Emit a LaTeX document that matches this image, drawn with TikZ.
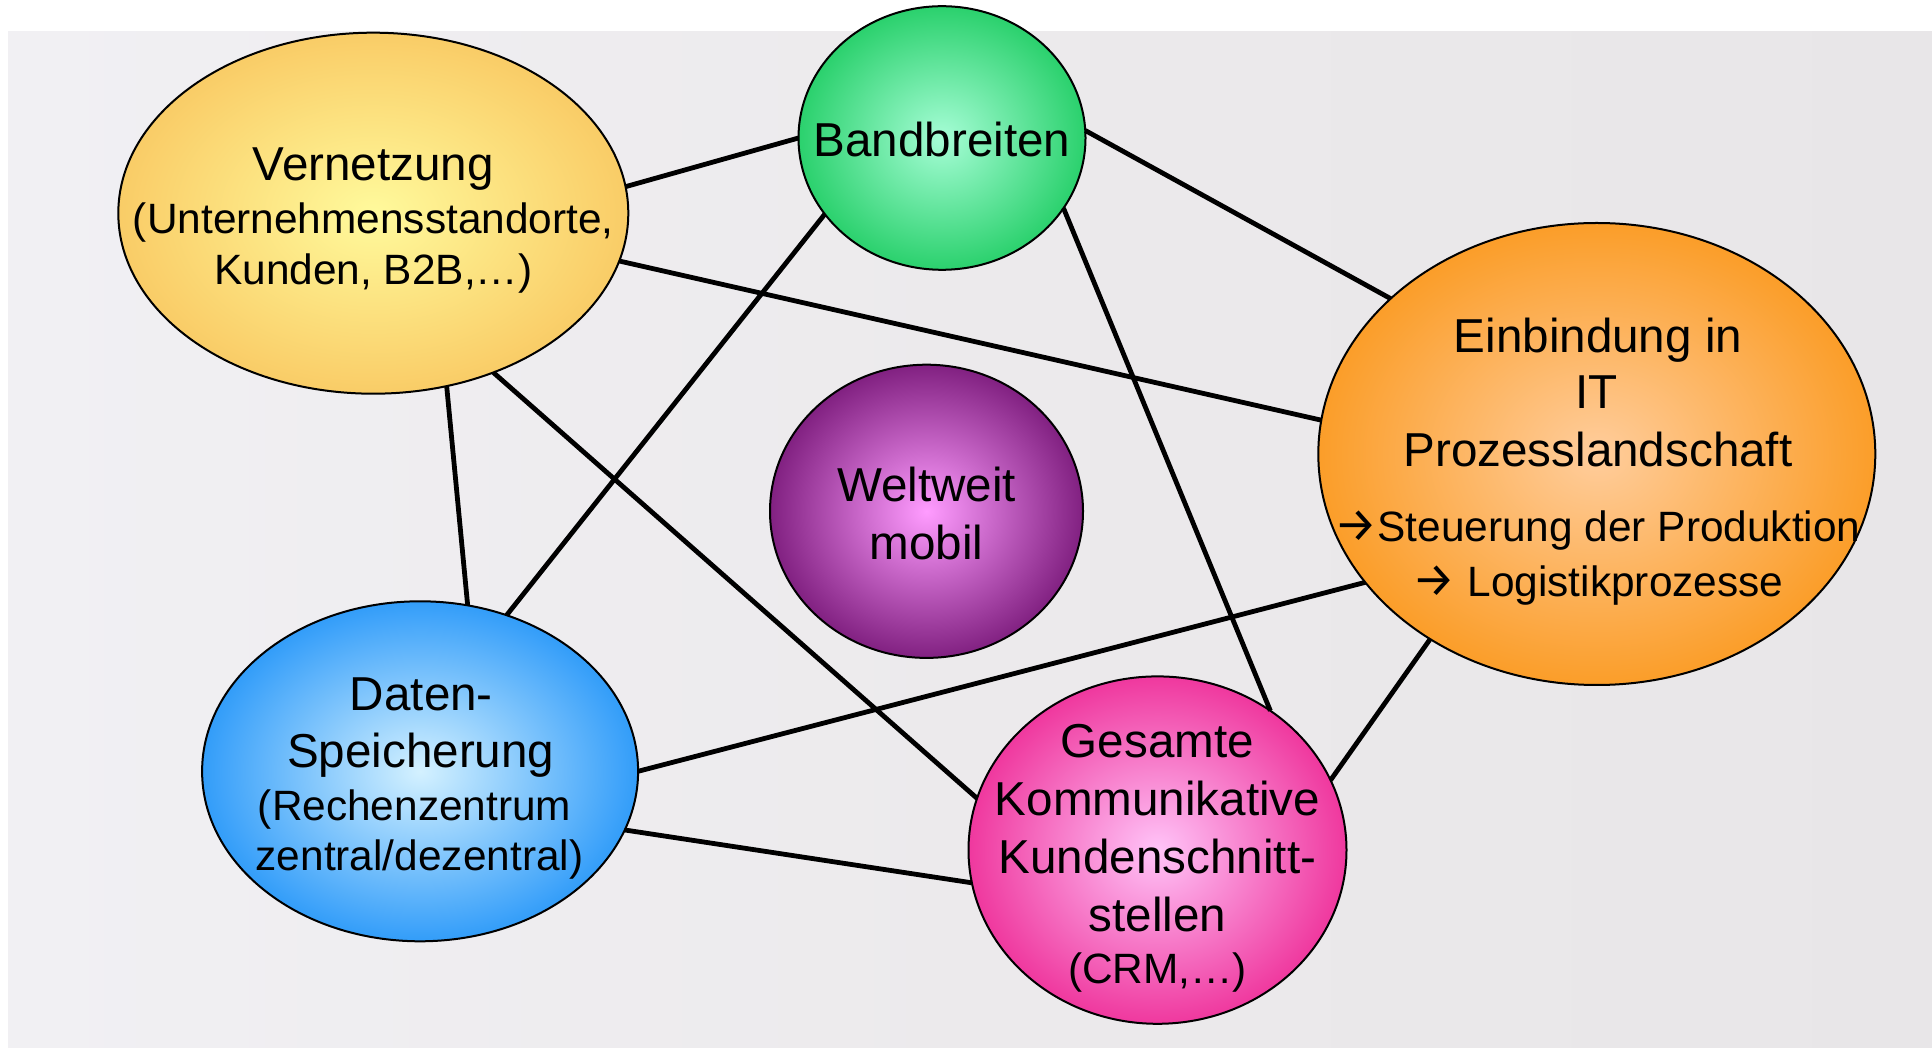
\documentclass[tikz,border=0pt]{standalone}
\usepackage{fontspec}
\setmainfont{Liberation Sans}
\newfontfamily\arrowfont{Fira Sans}
\usetikzlibrary{shapes.geometric}

\definecolor{bgL}{HTML}{F6F6FB}
\definecolor{bgM}{HTML}{ECEAEC}
\definecolor{bgR}{HTML}{E4E2E4}
\definecolor{vin}{HTML}{FFFA9C}\definecolor{vout}{HTML}{F8C35C}
\definecolor{bin}{HTML}{A6FDD6}\definecolor{bout}{HTML}{12C858}
\definecolor{ein}{HTML}{FFCD9C}\definecolor{eout}{HTML}{FA9412}
\definecolor{win}{HTML}{FF9CFF}\definecolor{wout}{HTML}{680868}
\definecolor{din}{HTML}{D4F1FF}\definecolor{dout}{HTML}{128CF8}
\definecolor{gin}{HTML}{FFC4F8}\definecolor{gout}{HTML}{EC1C8C}

\pgfdeclarehorizontalshading{bgsh}{100bp}{color(0bp)=(bgL); color(50bp)=(bgM); color(100bp)=(bgR)}
\pgfdeclareradialshading{shvern}{\pgfpoint{0bp}{0bp}}{color(0bp)=(vin); color(30bp)=(vout); color(50bp)=(vout)}
\pgfdeclareradialshading{shband}{\pgfpoint{0bp}{0bp}}{color(0bp)=(bin); color(30bp)=(bout); color(50bp)=(bout)}
\pgfdeclareradialshading{sheinb}{\pgfpoint{0bp}{0bp}}{color(0bp)=(ein); color(30bp)=(eout); color(50bp)=(eout)}
\pgfdeclareradialshading{shwelt}{\pgfpoint{0bp}{0bp}}{color(0bp)=(win); color(30bp)=(wout); color(50bp)=(wout)}
\pgfdeclareradialshading{shdat}{\pgfpoint{0bp}{0bp}}{color(0bp)=(din); color(30bp)=(dout); color(50bp)=(dout)}
\pgfdeclareradialshading{shges}{\pgfpoint{0bp}{0bp}}{color(0bp)=(gin); color(30bp)=(gout); color(50bp)=(gout)}

\tikzset{
  bubble/.style={ellipse, draw=black, line width=1pt, inner sep=0pt, outer sep=0pt},
  conn/.style={draw=black, line width=2.4pt},
  bigtxt/.style={anchor=base, inner sep=0pt, font=\fontsize{23.8}{28}\selectfont},
  smtxt/.style={anchor=base, inner sep=0pt, font=\fontsize{21.2}{26}\selectfont},
}

\begin{document}
\begin{tikzpicture}[x=0.5pt,y=-0.5pt]
\useasboundingbox (0,0) rectangle (1932,1052);
\fill[white] (0,0) rectangle (1932,1052);
\shade[shading=bgsh] (8,32) rectangle (1932,1047);

% bubbles
\node[bubble, shading=shvern, minimum width=255pt, minimum height=180.5pt] (vern) at (373.3,213.2) {};
\node[bubble, shading=shband, minimum width=143.5pt, minimum height=131.8pt] (band) at (942,138) {};
\node[bubble, shading=sheinb, minimum width=278.5pt, minimum height=231pt] (einb) at (1596.8,454) {};
\node[bubble, shading=shwelt, minimum width=156.5pt, minimum height=146.6pt] (welt) at (926.5,511.3) {};
\node[bubble, shading=shdat, minimum width=218pt, minimum height=170pt] (dat) at (420.1,771.3) {};
\node[bubble, shading=shges, minimum width=189pt, minimum height=173.7pt] (ges) at (1157.5,850.1) {};

% connectors
\draw[conn] (vern.6.6) -- (band.180);
\draw[conn] (vern.349) -- (einb.173.6);
\draw[conn] (vern.293.9) -- (dat.74.2);
\draw[conn] (vern.307.2) -- (ges.164.7);
\draw[conn] (band.213.7) -- (dat.61.6);
\draw[conn] (band.3.5) -- (einb.143.9);
\draw[conn] (band.330.8) -- (ges.51);
\draw[conn] (dat.0) -- (einb.209.3);
\draw[conn] (dat.344.5) -- (ges.190.3);
\draw[conn] (einb.228.1) -- (ges.22.1);

% texts
\node[bigtxt] (vern1) at (373.3,181) {Vernetzung};
\node[smtxt] (vern2) at (373.3,233.2) {(Unternehmensstandorte,};
\node[smtxt] (vern3) at (373.3,285) {Kunden, B2B,…)};

\node[bigtxt] (band1) at (942,156.3) {Bandbreiten};

\node[bigtxt] (einb1) at (1598,352.2) {Einbindung in};
\node[bigtxt] (einb2) at (1596.8,408.9) {IT};
\node[bigtxt] (einb3) at (1598,466.8) {Prozesslandschaft};
\node[smtxt] (einb4) at (1597.4,541.2) {{\arrowfont\fontsize{24}{26}\selectfont →}Steuerung der Produktion};
\node[smtxt] (einb5) at (1598,596.7) {{\arrowfont\fontsize{24}{26}\selectfont →} Logistikprozesse};

\node[bigtxt] (welt1) at (926.5,501.3) {Weltweit};
\node[bigtxt] (welt2) at (926.5,559.2) {mobil};

\node[bigtxt] (dat1) at (421.4,710.8) {Daten-};
\node[bigtxt] (dat2) at (420.8,767.4) {Speicherung};
\node[smtxt] (dat3) at (414.6,820.9) {(Rechenzentrum};
\node[smtxt] (dat4) at (419.5,870.2) {zentral/dezentral)};

\node[bigtxt] (ges1) at (1157.5,757.6) {Gesamte};
\node[bigtxt] (ges2) at (1157.5,815.5) {Kommunikative};
\node[bigtxt] (ges3) at (1157.5,873.4) {Kundenschnitt-};
\node[bigtxt] (ges4) at (1157.5,931.3) {stellen};
\node[smtxt] (ges5) at (1157.5,983.6) {(CRM,…)};
\end{tikzpicture}
\end{document}
